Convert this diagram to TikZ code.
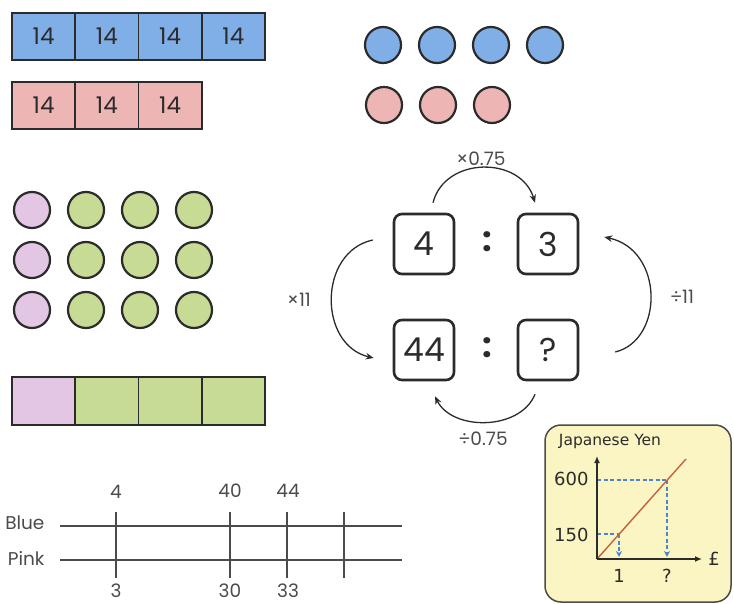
\documentclass[tikz,border=0pt]{standalone}
\usepackage{fontspec}
\setmainfont{Poppins}
\newfontfamily\graphfont{DejaVu Sans}
\usetikzlibrary{arrows.meta}

\definecolor{barblue}{HTML}{80AEE6}
\definecolor{barpink}{HTML}{EEB5B5}
\definecolor{lilac}{HTML}{E2C6E4}
\definecolor{leaf}{HTML}{C7DB95}
\definecolor{ink}{HTML}{2B2B2B}
\definecolor{cream}{HTML}{FBF5C3}
\definecolor{dashblue}{HTML}{4A86C8}
\definecolor{redline}{HTML}{C8603C}

\begin{document}
\begin{tikzpicture}[x=1pt,y=-1pt,
  cell/.style={draw=ink,line width=1.6pt,minimum width=63.25pt,minimum height=47pt,
    inner sep=0pt,font=\fontsize{23}{26}\selectfont,text=ink},
  disc/.style={circle,draw=ink,line width=2.2pt,minimum size=36pt,inner sep=0pt},
  rbox/.style={draw=ink,line width=2.6pt,rounded corners=8pt,minimum size=60pt,
    inner sep=0pt,font=\fontsize{33}{36}\selectfont,text=ink},
  colon/.style={font=\fontsize{34}{36}\selectfont\bfseries,text=ink},
  turn/.style={line width=1.3pt,draw=ink,-{Stealth[length=8pt,width=6.5pt]}},
  lbl/.style={font=\fontsize{18.5}{20}\selectfont,text=ink!85},
  track/.style={line width=1.3pt,draw=ink!85},
  glbl/.style={font=\graphfont\fontsize{18}{20}\selectfont,text=ink},
  guide/.style={draw=dashblue,line width=1.4pt,dash pattern=on 4pt off 2.5pt},
  guidetip/.style={guide,-{Stealth[length=6pt,width=6pt]}},
]
\useasboundingbox (0,0) rectangle (734,604);

% bar models
\foreach \i in {0,...,3}
  \node[cell,fill=barblue] (blue\i) at (43.6+63.25*\i,36.5) {14};
\foreach \i in {0,...,2}
  \node[cell,fill=barpink] (pink\i) at (43.6+63.25*\i,105.5) {14};

% counters
\foreach \i in {0,...,3}
  \node[disc,fill=barblue] (bc\i) at (383+54*\i,45) {};
\foreach \i in {0,...,2}
  \node[disc,fill=barpink] (pc\i) at (384+54*\i,105) {};

% 1:3 counter grid
\foreach \r in {0,1,2}{
  \node[disc,fill=lilac] (g\r0) at (32,210+50*\r) {};
  \foreach \c in {1,2,3}
    \node[disc,fill=leaf] (g\r\c) at (32+54*\c,210+50*\r) {};
}

% 1:3 bar
\node[cell,fill=lilac,minimum height=48pt] (lb0) at (43.6,401) {};
\foreach \i in {1,2,3}
  \node[cell,fill=leaf,minimum height=48pt] (lb\i) at (43.6+63.25*\i,401) {};

% ratio table
\node[rbox] (r4) at (424,244) {4};
\node[rbox] (r3) at (548,244) {3};
\node[rbox] (r44) at (424,350) {44};
\node[rbox] (rq) at (548,350) {?};
\node[colon] (c1) at (487,242) {:};
\node[colon] (c2) at (487,348) {:};

\draw[turn] ([xshift=9pt,yshift=10pt]r4.north) .. controls (445,156) and (521,156) .. ([xshift=-13pt,yshift=10pt]r3.north);
\draw[turn] ([xshift=-20pt,yshift=4pt]r4.west) .. controls (318,252) and (318,345) .. ([xshift=-19pt,yshift=-8pt]r44.west);
\draw[turn] ([xshift=36pt,yshift=-2pt]rq.east) .. controls (664,340) and (664,250) .. ([xshift=25pt,yshift=7pt]r3.east);
\draw[turn] ([xshift=-13pt,yshift=-13pt]rq.south) .. controls (520,431) and (452,431) .. ([xshift=11pt,yshift=-15pt]r44.south);

\node[lbl] (m1) at (481,159) {×0.75};
\node[lbl] (m2) at (299,300) {×11};
\node[lbl] (m3) at (682,297) {÷11};
\node[lbl] (m4) at (483,439) {÷0.75};

% double number line
\node[lbl,anchor=east] (blue) at (48,523) {Blue};
\node[lbl,anchor=east] (pink) at (48,558) {Pink};
\coordinate (bl0) at (60,526);  \coordinate (bl1) at (402,526);
\coordinate (pl0) at (60,560);  \coordinate (pl1) at (402,560);
\draw[track] (bl0) -- (bl1);
\draw[track] (pl0) -- (pl1);
\foreach \x/\n in {116/a,230/b,287/c,344/d}{
  \coordinate (t\n) at (\x,512);
  \coordinate (u\n) at (\x,578);
  \draw[track] (t\n) -- (u\n);
}
\node[lbl] (v4) at (116,492) {4};
\node[lbl] (v40) at (230,491) {40};
\node[lbl] (v44) at (288,491) {44};
\node[lbl] (w3) at (116,591) {3};
\node[lbl] (w30) at (230,591) {30};
\node[lbl] (w33) at (288,591) {33};

% conversion graph
\draw[fill=cream,draw=ink!85,line width=1.5pt,rounded corners=16pt] (545,425) rectangle (731,602);
\coordinate (o) at (597,559);
\coordinate (ytop) at (597,456);
\coordinate (xend) at (702,559);
\coordinate (lend) at (686,459);
\coordinate (p1) at (619,534);
\coordinate (p2) at (667,480);
\coordinate (y150) at (597,534);
\coordinate (y600) at (597,480);
\coordinate (x1) at (619,557);
\coordinate (x2) at (667,557);
\draw[guide] (y150) -- (p1);
\draw[guide] (y600) -- (p2);
\draw[guidetip] (p1) -- (x1);
\draw[guidetip] (p2) -- (x2);
\draw[redline,line width=1.4pt] (o) -- (lend);
\draw[ink,line width=1.5pt,-{Latex[length=7pt,width=6pt]}] (o) -- (ytop);
\draw[ink,line width=1.5pt,-{Latex[length=7pt,width=6pt]}] (o) -- (xend);
\node[glbl,font=\graphfont\fontsize{15.5}{17}\selectfont] (yen) at (610,441) {Japanese Yen};
\node[glbl,anchor=east] (l600) at (592,479) {600};
\node[glbl,anchor=east] (l150) at (592,535) {150};
\node[glbl] (n1) at (619,576) {1};
\node[glbl] (nq) at (667,576) {?};
\node[glbl] (gbp) at (714,559) {£};
\end{tikzpicture}
\end{document}
